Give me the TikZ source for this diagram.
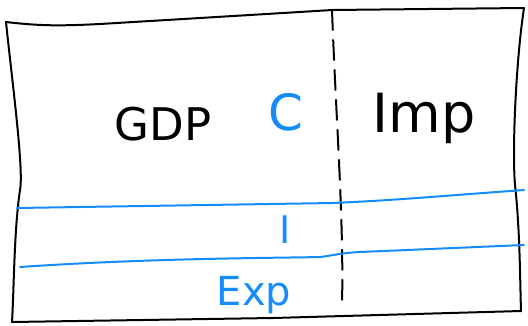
\documentclass[tikz,border=0pt]{standalone}
\usepackage{fontspec}
\setmainfont{DejaVu Sans}
\definecolor{pen}{RGB}{20,140,250}

\begin{document}
\begin{tikzpicture}[x=1pt, y=-1pt, line width=2pt, line cap=round,
  every node/.style = {inner sep=0pt, anchor=base},
  blueline/.style = {draw=pen},
  split/.style = {draw, dash pattern=on 20pt off 10pt},
  big/.style = {font=\fontsize{#1}{#1}\selectfont}]
  \useasboundingbox (0,0) rectangle (528,325);
  % corners of the box
  \coordinate (tl) at (6,22);
  \coordinate (tr) at (524,8);
  \coordinate (bl) at (12,322);
  \coordinate (br) at (521,311);
  % outline
  \draw (tl) .. controls (40,26) and (60,26) .. (100,24)
    .. controls (200,18) and (300,12) .. (332,10) -- (tr);
  \draw (tl) .. controls (12,80) and (24,170) .. (20,190)
    .. controls (14,230) and (14,290) .. (bl);
  \draw (tr) .. controls (516,60) and (512,150) .. (515,185)
    .. controls (520,230) and (520,280) .. (br);
  \draw (bl) -- (273,318) -- (br);
  % split between GDP and Imp
  \draw[split] (332,10) .. controls (336,120) and (344,220) .. (342,305);
  % bands
  \draw[blueline] (17,208) -- (333,203) .. controls (400,200) and (440,196) .. (524,190);
  \draw[blueline] (20,267) .. controls (150,258) and (280,258) .. (320,257)
    .. controls (330,256) and (340,253) .. (360,252) -- (524,245);
  % labels
  \node[big=45] (gdp) at (163,140) {GDP};
  \node[big=50, text=pen] (c) at (286,130) {C};
  \node[big=54] (imp) at (424,132) {Imp};
  \node[big=38, text=pen] (inv) at (285,243) {I};
  \node[big=40, text=pen] (exp) at (254,305) {Exp};
\end{tikzpicture}
\end{document}
